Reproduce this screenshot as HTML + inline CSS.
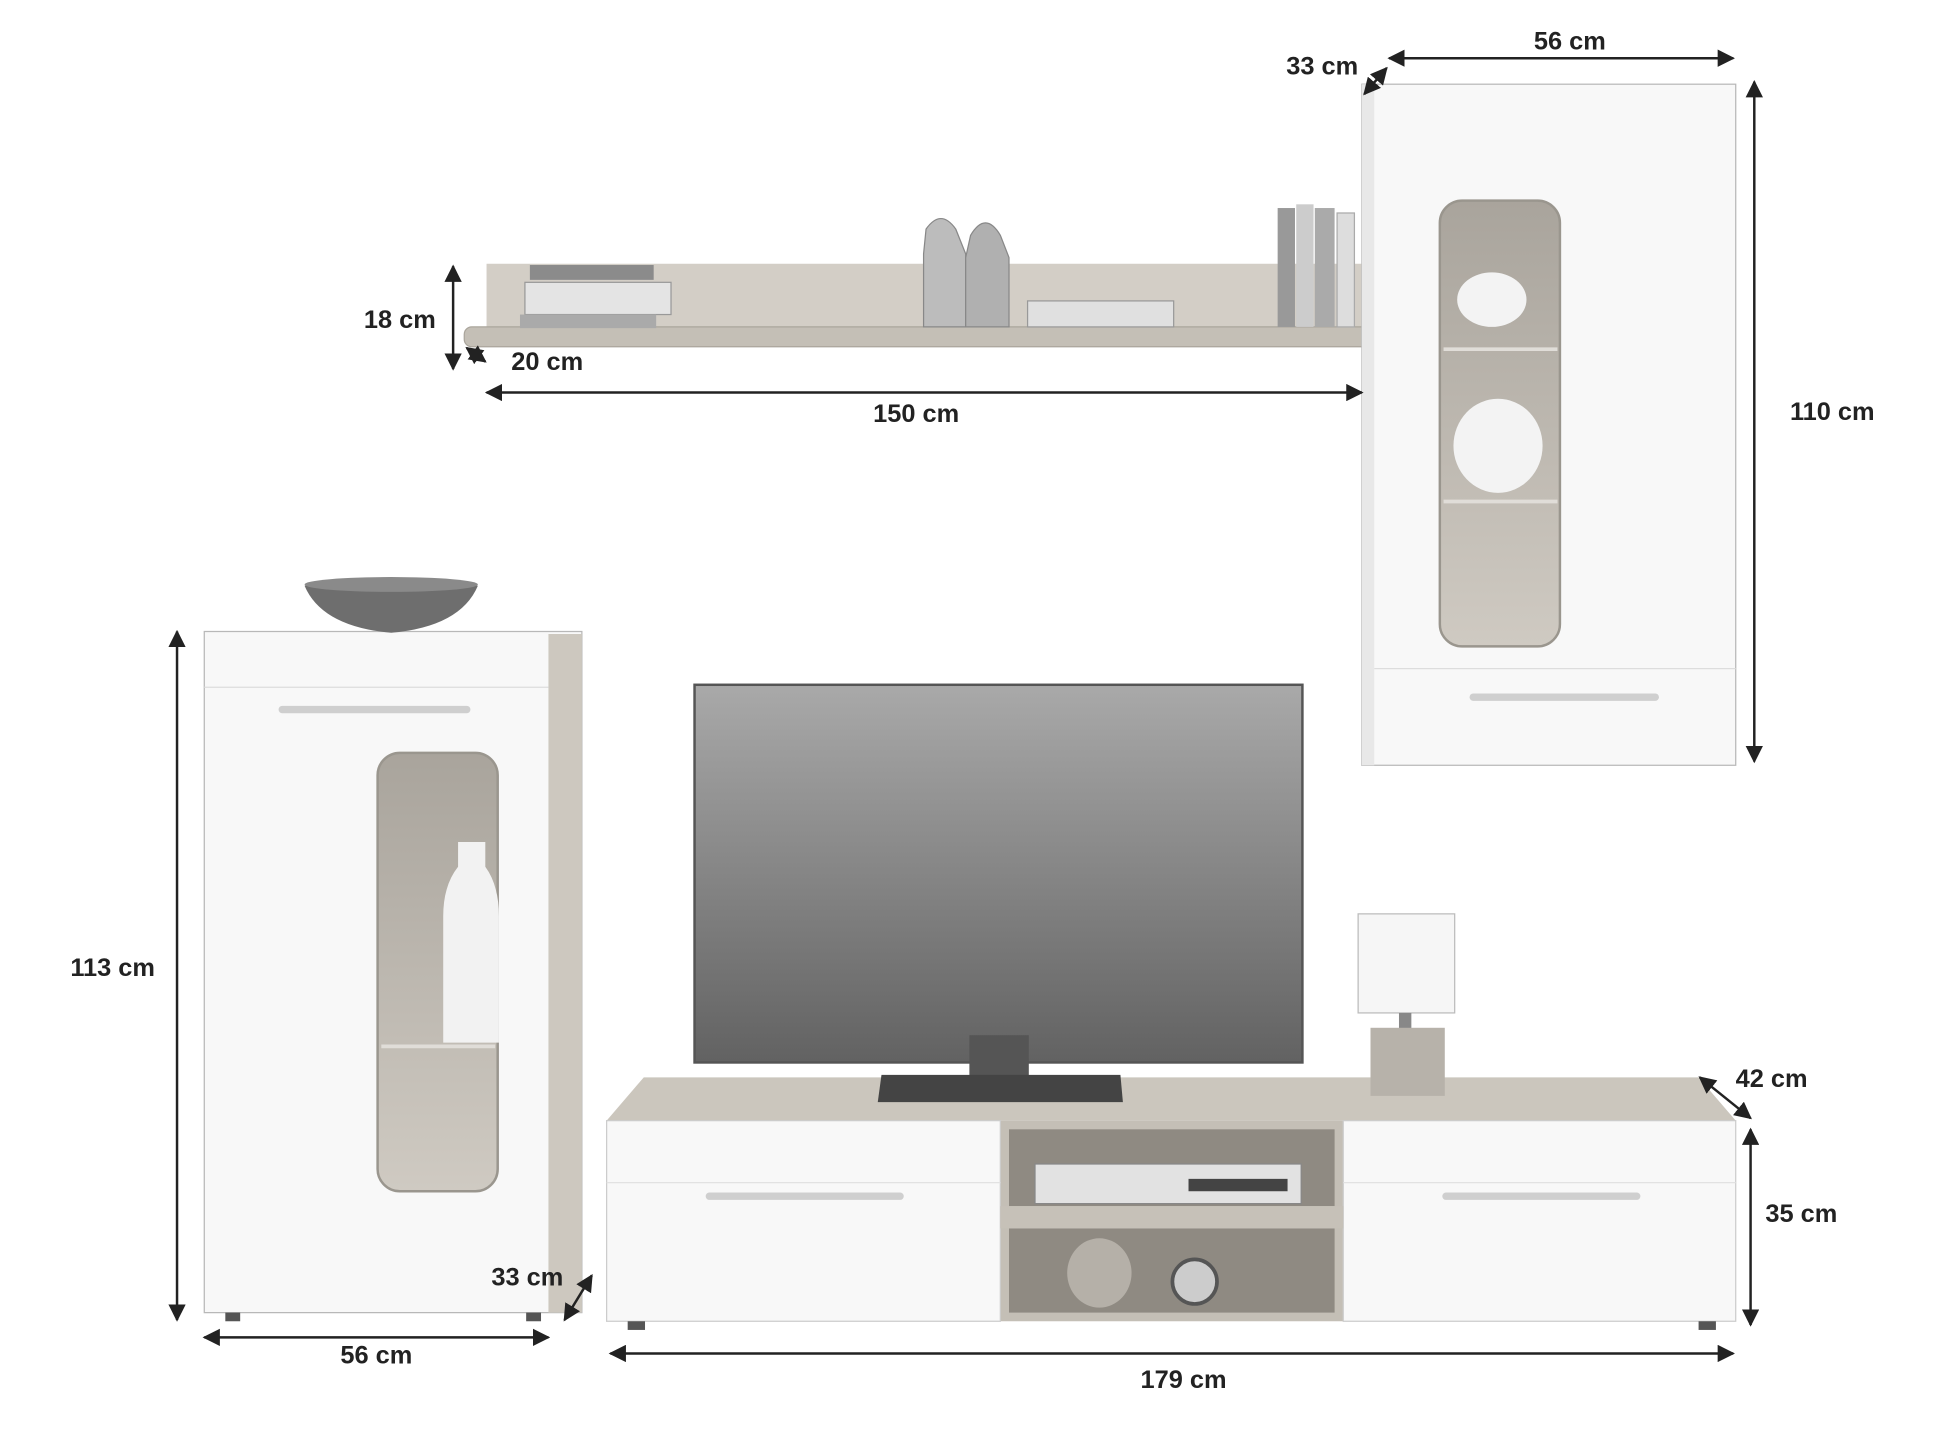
<!DOCTYPE html>
<html><head><meta charset="utf-8"><style>
html,body{margin:0;padding:0;background:#fff}
svg{display:block}
text{font-family:"Liberation Sans",sans-serif;font-weight:bold;font-size:20.5px;fill:#222}
</style></head><body>
<svg width="1940" height="1455" viewBox="0 0 1567 1175" preserveAspectRatio="none" xmlns="http://www.w3.org/2000/svg">
<defs>
<marker id="a" viewBox="0 0 10 10" refX="9" refY="5" markerWidth="7" markerHeight="7" orient="auto-start-reverse"><path d="M0,0 L10,5 L0,10 z" fill="#222"/></marker>
<linearGradient id="tv" x1="0" y1="0" x2="0" y2="1"><stop offset="0" stop-color="#a9a9a9"/><stop offset="1" stop-color="#626262"/></linearGradient>
<linearGradient id="glass" x1="0" y1="0" x2="0" y2="1"><stop offset="0" stop-color="#a9a49c"/><stop offset="1" stop-color="#cfcac2"/></linearGradient>
</defs>
<rect width="1600" height="1200" fill="#fff"/>

<!-- Shelf -->
<rect x="393" y="213" width="710" height="54" fill="#d3cec6"/>
<rect x="375" y="264" width="736" height="16" rx="6" fill="#c4bfb6" stroke="#aaa59c"/>
<rect x="428" y="214" width="100" height="12" fill="#8b8b8b"/>
<rect x="424" y="228" width="118" height="26" fill="#e4e4e4" stroke="#999"/>
<rect x="420" y="254" width="110" height="11" fill="#aaa"/>
<path d="M748,185 Q760,168 772,185 L780,205 L780,264 L746,264 L746,205 z" fill="#bcbcbc" stroke="#888"/>
<path d="M784,190 Q796,170 808,190 L815,208 L815,264 L780,264 L780,208 z" fill="#b0b0b0" stroke="#888"/>
<rect x="830" y="243" width="118" height="21" fill="#e0e0e0" stroke="#999"/>
<rect x="1032" y="168" width="14" height="96" fill="#999"/>
<rect x="1047" y="165" width="14" height="99" fill="#ccc"/>
<rect x="1062" y="168" width="16" height="96" fill="#aaa"/>
<rect x="1080" y="172" width="14" height="92" fill="#ddd" stroke="#aaa"/>

<!-- Wall cabinet -->
<rect x="1100" y="68" width="302" height="550" fill="#f8f8f8" stroke="#b8b8b8"/>
<rect x="1100" y="68" width="10" height="550" fill="#e8e8e8"/>
<line x1="1110" y1="540" x2="1402" y2="540" stroke="#ddd"/>
<rect x="1163" y="162" width="97" height="360" rx="18" fill="url(#glass)" stroke="#9a968e" stroke-width="2"/>
<line x1="1166" y1="282" x2="1258" y2="282" stroke="#e0ddd8" stroke-width="3"/>
<line x1="1166" y1="405" x2="1258" y2="405" stroke="#e0ddd8" stroke-width="3"/>
<ellipse cx="1205" cy="242" rx="28" ry="22" fill="#f3f3f3"/>
<ellipse cx="1210" cy="360" rx="36" ry="38" fill="#f3f3f3"/>
<rect x="1187" y="560" width="153" height="6" rx="3" fill="#cfcfcf"/>

<!-- Left cabinet -->
<path d="M165,510 L470,510 L470,1060 L165,1060 z" fill="#f8f8f8" stroke="#b8b8b8"/>
<rect x="443" y="512" width="27" height="548" fill="#cdc8bf"/>
<line x1="165" y1="555" x2="443" y2="555" stroke="#ddd"/>
<rect x="225" y="570" width="155" height="6" rx="3" fill="#cfcfcf"/>
<rect x="305" y="608" width="97" height="354" rx="18" fill="url(#glass)" stroke="#9a968e" stroke-width="2"/>
<path d="M370,680 L392,680 L392,700 Q403,715 403,740 L403,842 L358,842 L358,740 Q358,715 370,700 z" fill="#f2f2f2"/>
<line x1="308" y1="845" x2="400" y2="845" stroke="#e0ddd8" stroke-width="3"/>
<path d="M246,473 Q315,462 386,473 Q372,506 316,511 Q260,506 246,473 z" fill="#6e6e6e"/>
<ellipse cx="316" cy="472" rx="70" ry="6" fill="#8a8a8a"/>
<rect x="182" y="1060" width="12" height="7" fill="#555"/>
<rect x="425" y="1060" width="12" height="7" fill="#555"/>

<!-- TV board -->
<path d="M490,905 L520,870 L1372,870 L1402,905 z" fill="#cbc6bd"/>
<rect x="490" y="905" width="912" height="162" fill="#c4bfb6"/>
<rect x="490" y="905" width="318" height="162" fill="#f8f8f8" stroke="#ccc"/>
<rect x="1085" y="905" width="317" height="162" fill="#f8f8f8" stroke="#ccc"/>
<line x1="490" y1="955" x2="808" y2="955" stroke="#e2e2e2"/>
<line x1="1085" y1="955" x2="1402" y2="955" stroke="#e2e2e2"/>
<rect x="570" y="963" width="160" height="6" rx="3" fill="#cfcfcf"/>
<rect x="1165" y="963" width="160" height="6" rx="3" fill="#cfcfcf"/>
<rect x="815" y="912" width="263" height="62" fill="#8f8a82"/>
<rect x="815" y="992" width="263" height="68" fill="#8f8a82"/>
<rect x="808" y="974" width="277" height="18" fill="#c6c1b8"/>
<rect x="836" y="940" width="215" height="32" fill="#e2e2e2" stroke="#888"/>
<rect x="960" y="952" width="80" height="10" fill="#444"/>
<ellipse cx="888" cy="1028" rx="26" ry="28" fill="#b5b0a8"/>
<circle cx="965" cy="1035" r="18" fill="#ccc" stroke="#555" stroke-width="3"/>
<rect x="507" y="1067" width="14" height="7" fill="#555"/>
<rect x="1372" y="1067" width="14" height="7" fill="#555"/>

<!-- TV -->
<rect x="561" y="553" width="491" height="305" fill="url(#tv)" stroke="#555" stroke-width="2"/>
<rect x="783" y="836" width="48" height="34" fill="#555"/>
<path d="M712,868 L905,868 L907,890 L709,890 z" fill="#444"/>

<!-- Lamp -->
<rect x="1097" y="738" width="78" height="80" fill="#f6f6f6" stroke="#bbb"/>
<rect x="1130" y="818" width="10" height="14" fill="#888"/>
<rect x="1107" y="830" width="60" height="55" fill="#b7b2aa"/>

<!-- Dimension lines -->
<g stroke="#222" stroke-width="2" fill="none">
<line x1="1122" y1="47" x2="1400" y2="47" marker-start="url(#a)" marker-end="url(#a)"/>
<line x1="1120" y1="55" x2="1102" y2="76" marker-start="url(#a)" marker-end="url(#a)"/>
<line x1="1417" y1="66" x2="1417" y2="615" marker-start="url(#a)" marker-end="url(#a)"/>
<line x1="366" y1="215" x2="366" y2="298" marker-start="url(#a)" marker-end="url(#a)"/>
<line x1="377" y1="281" x2="392" y2="292" marker-start="url(#a)" marker-end="url(#a)"/>
<line x1="393" y1="317" x2="1100" y2="317" marker-start="url(#a)" marker-end="url(#a)"/>
<line x1="143" y1="510" x2="143" y2="1066" marker-start="url(#a)" marker-end="url(#a)"/>
<line x1="165" y1="1080" x2="443" y2="1080" marker-start="url(#a)" marker-end="url(#a)"/>
<line x1="456" y1="1066" x2="478" y2="1030" marker-start="url(#a)" marker-end="url(#a)"/>
<line x1="1373" y1="870" x2="1414" y2="903" marker-start="url(#a)" marker-end="url(#a)"/>
<line x1="1414" y1="912" x2="1414" y2="1070" marker-start="url(#a)" marker-end="url(#a)"/>
<line x1="493" y1="1093" x2="1400" y2="1093" marker-start="url(#a)" marker-end="url(#a)"/>
</g>
<text x="1268" y="40" text-anchor="middle">56 cm</text>
<text x="1068" y="60" text-anchor="middle">33 cm</text>
<text x="1480" y="339" text-anchor="middle">110 cm</text>
<text x="323" y="265" text-anchor="middle">18 cm</text>
<text x="442" y="299" text-anchor="middle">20 cm</text>
<text x="740" y="341" text-anchor="middle">150 cm</text>
<text x="91" y="788" text-anchor="middle">113 cm</text>
<text x="304" y="1101" text-anchor="middle">56 cm</text>
<text x="426" y="1038" text-anchor="middle">33 cm</text>
<text x="1431" y="878" text-anchor="middle">42 cm</text>
<text x="1455" y="987" text-anchor="middle">35 cm</text>
<text x="956" y="1121" text-anchor="middle">179 cm</text>
</svg>
</body></html>
